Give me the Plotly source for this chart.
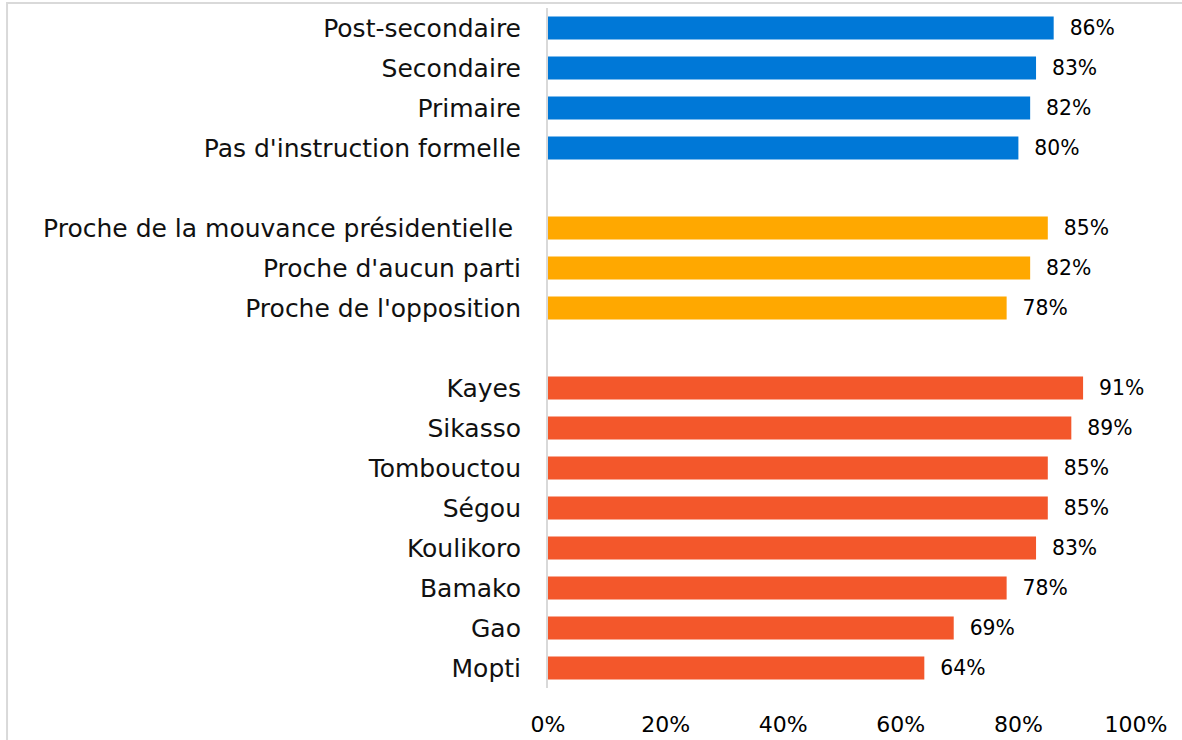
import plotly.graph_objects as go

education = ["Post-secondaire", "Secondaire", "Primaire", "Pas d'instruction formelle"]
education_vals = [86, 83, 82, 80]
party = ["Proche de la mouvance présidentielle ", "Proche d'aucun parti", "Proche de l'opposition"]
party_vals = [85, 82, 78]
regions = ["Kayes", "Sikasso", "Tombouctou", "Ségou", "Koulikoro", "Bamako", "Gao", "Mopti"]
region_vals = [91, 89, 85, 85, 83, 78, 69, 64]
spacers = [" ", "  "]

colors = {"edu": "#0078D7", "party": "#FFA800", "region": "#F3572B"}
FONT = "Century Gothic, DejaVu Sans, sans-serif"

fig = go.Figure()
for cats, vals, col in [(education, education_vals, colors["edu"]),
                        (party, party_vals, colors["party"]),
                        (regions, region_vals, colors["region"])]:
    fig.add_trace(go.Bar(
        y=cats, x=[v / 100 for v in vals], orientation="h",
        marker=dict(color=col, line=dict(width=0)),
        width=0.575,
        text=[f"  {v}%" for v in vals], textposition="outside",
        textfont=dict(family=FONT, size=23, color="#000000"),
        cliponaxis=False, showlegend=False, hoverinfo="skip"))

order = education + [spacers[0]] + party + [spacers[1]] + regions

fig.update_layout(
    width=1182, height=740,
    margin=dict(l=548, r=46, t=8, b=52, autoexpand=False),
    paper_bgcolor="white", plot_bgcolor="white",
    font=dict(family=FONT, size=22, color="#000000"),
    bargap=0.425,
    xaxis=dict(range=[0, 1], tickvals=[0, 0.2, 0.4, 0.6, 0.8, 1.0],
               tickformat=".0%", showgrid=False, zeroline=False,
               showline=False, ticks="", ticklabelstandoff=21, automargin=False,
               tickfont=dict(family=FONT, size=22, color="#000000")),
    yaxis=dict(categoryorder="array", categoryarray=order, type="category",
               autorange="reversed", showgrid=False, zeroline=False,
               showline=True, linecolor="#D9D9D9", linewidth=2, ticks="",
               ticklabelstandoff=20, automargin=False,
               tickfont=dict(family=FONT, size=25, color="#111111")),
    shapes=[dict(type="rect", xref="paper", yref="paper",
                 x0=-0.92, x1=1.3, y0=-0.3, y1=1.0074,
                 line=dict(color="#D9D9D9", width=2), fillcolor="rgba(0,0,0,0)",
                 layer="below")],
)
fig.update_yaxes(tickmode="array", tickvals=order, ticktext=order)

fig.write_html("out.html", config={"displayModeBar": False},
               post_script="document.body.style.margin='0';")
